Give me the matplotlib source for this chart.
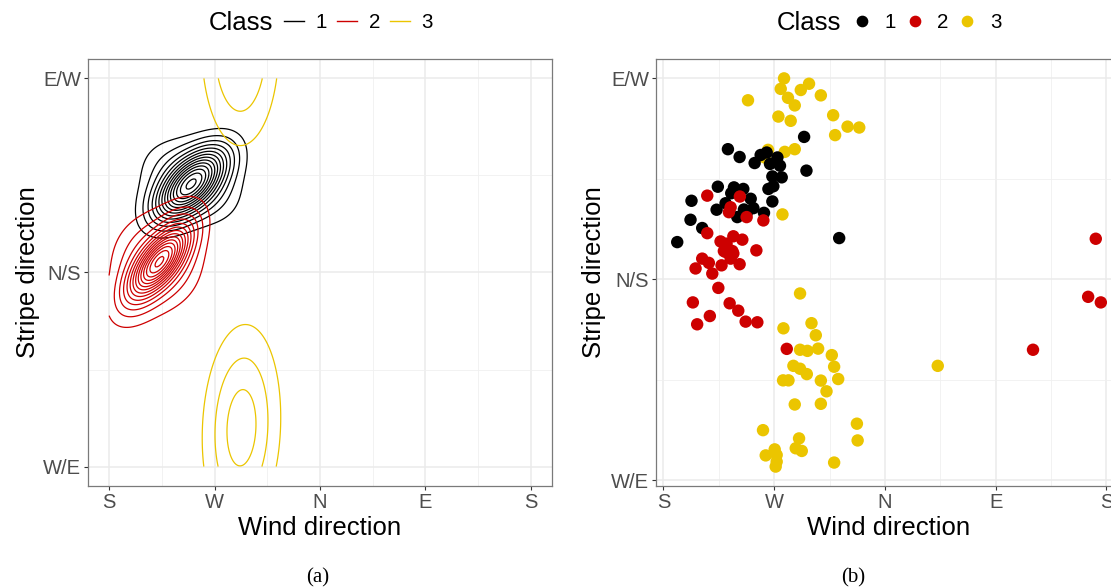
import numpy as np
import matplotlib
matplotlib.use("Agg")
import matplotlib.pyplot as plt
from matplotlib.lines import Line2D

plt.rcParams['font.family'] = ['Liberation Sans', 'DejaVu Sans']

# class colours
class_names = ['1', '2', '3']
class_colors = ['#000000', '#CD0000', '#EBC500']

# axis ticks (degrees)
wind_ticks = [180, 270, 360, 450, 540]
wind_labels = ['S', 'W', 'N', 'E', 'S']
stripe_ticks = [0, 90, 180]
stripe_labels = ['W/E', 'N/S', 'E/W']

# density components per class: peak height (in contour steps), centre,
# spread, correlation and kernel exponent (2 = gaussian, >2 = flatter top)
dens_class = [0, 0, 1, 1, 2, 2]
dens_height = [11.5, 2.8, 11.5, 2.8, 3.57, 3.44]
dens_mx = [250, 250, 223, 221, 293, 292]
dens_my = [131, 132, 95, 95, 18, 196]
dens_sx = [19, 33, 16.7, 31, 21, 21]
dens_sy = [10.5, 16, 10.7, 21, 30, 30]
dens_rho = [0.6, 0.1, 0.68, 0.35, 0.1, 0.0]
dens_pow = [2, 3, 2, 3, 2, 2]

# observations: wind direction / stripe direction (degrees)
wind_1 = [294.3, 232.4, 241.9, 259.0, 263.9, 254.1, 272.6, 266.6, 274.7, 296.2,
          268.5, 276.1, 269.3, 265.3, 224.2, 237.3, 244.9, 235.1, 202.8, 250.9,
          268.5, 230.5, 223.2, 253.1, 245.4, 261.7, 240.0, 247.6, 202.0, 211.5,
          191.2, 322.8]
stripe_1 = [153.7, 148.2, 144.7, 145.6, 146.7, 142.0, 144.5, 141.6, 140.8, 138.6,
            136.0, 135.6, 131.6, 130.4, 131.4, 131.1, 130.4, 128.5, 125.1, 126.0,
            124.8, 124.0, 121.1, 121.8, 121.2, 119.7, 117.8, 119.5, 116.6, 112.9,
            106.6, 108.4]

wind_2 = [215.6, 242.1, 234.6, 233.2, 247.6, 261.2, 215.6, 226.4, 236.8, 244.1,
          231.3, 236.0, 229.1, 255.5, 211.5, 230.5, 236.8, 234.6, 216.9, 206.1,
          227.2, 241.9, 219.7, 224.6, 203.9, 233.8, 217.7, 240.8, 207.4, 246.8,
          256.3, 280.2, 531.3, 525.1, 535.4, 480.3]
stripe_2 = [127.4, 127.0, 122.2, 120.0, 117.8, 116.3, 110.6, 106.9, 109.2, 107.7,
            105.9, 102.6, 102.6, 102.9, 99.2, 102.2, 101.5, 99.2, 97.3, 94.8,
            96.2, 96.7, 92.5, 86.1, 79.6, 79.2, 73.5, 75.9, 69.8, 71.0,
            70.7, 58.8, 108.1, 82.1, 79.6, 58.4]

wind_3 = [278.0, 298.3, 275.3, 291.6, 281.2, 307.9, 248.7, 286.7, 273.4, 283.4,
          317.9, 329.6, 339.1, 319.5, 286.7, 278.6, 265.0, 262.3, 276.7,
          291.0, 300.3, 277.5, 303.8, 291.0, 297.0, 305.7, 316.8, 285.6, 291.0,
          318.7, 296.5, 277.2, 281.6, 307.9, 322.0, 312.5, 286.7, 307.9, 260.9,
          337.2, 337.8, 290.2, 287.5, 292.4, 270.4, 263.1, 272.0, 272.0, 271.2,
          318.7, 402.9]
stripe_3 = [179.9, 177.5, 175.2, 174.7, 171.2, 172.3, 170.1, 167.8, 162.8, 160.9,
            163.4, 158.3, 157.9, 154.5, 148.2, 147.0, 147.9, 144.5, 119.0,
            83.6, 70.3, 68.0, 64.9, 58.4, 57.9, 58.9, 56.0, 51.2, 49.9,
            50.8, 47.5, 44.7, 44.7, 44.6, 45.3, 39.8, 33.9, 34.2, 22.4,
            25.3, 17.8, 18.7, 14.3, 13.1, 13.8, 11.1, 11.3, 8.3, 6.1,
            7.9, 51.2]

wind_obs = [wind_1, wind_2, wind_3]
stripe_obs = [stripe_1, stripe_2, stripe_3]

TICK_FS = 14.5
TITLE_FS = 18.5
LEG_FS = 14.8


def class_density(k, X, Y):
    Z = np.zeros_like(X)
    for c, h, mx, my, sx, sy, r, p in zip(dens_class, dens_height, dens_mx, dens_my,
                                          dens_sx, dens_sy, dens_rho, dens_pow):
        if c != k:
            continue
        dx = (X - mx) / sx
        dy = (Y - my) / sy
        # decorrelate, then apply the kernel exponent per axis
        a = dx
        b = (dy - r * dx) / np.sqrt(1 - r * r)
        q = np.abs(a) ** p + np.abs(b) ** p
        Z += h * np.exp(-0.5 * q)
    return Z


def style_axes(ax, ylabelpad):
    ax.set_facecolor('white')
    ax.set_xticks(wind_ticks)
    ax.set_xticklabels(wind_labels)
    ax.set_yticks(stripe_ticks)
    ax.set_yticklabels(stripe_labels)
    ax.set_xticks([225, 315, 405, 495], minor=True)
    ax.set_yticks([45, 135], minor=True)
    ax.grid(which='major', color='#EBEBEB', linewidth=1.1)
    ax.grid(which='minor', color='#F0F0F0', linewidth=0.6)
    ax.set_axisbelow(True)
    ax.tick_params(which='major', length=3, width=0.8, color='#333333',
                   labelsize=TICK_FS, labelcolor='#4D4D4D', pad=2)
    ax.tick_params(which='minor', length=0)
    for s in ax.spines.values():
        s.set_color('#7A7A7A')
        s.set_linewidth(0.9)
    ax.set_xlabel('Wind direction', fontsize=TITLE_FS, labelpad=3)
    ax.set_ylabel('Stripe direction', fontsize=TITLE_FS, labelpad=ylabelpad)


fig = plt.figure(figsize=(11.11, 5.88), dpi=100)
ax1 = fig.add_axes([0.0792, 0.1735, 0.4176, 0.7262])
ax2 = fig.add_axes([0.5905, 0.1735, 0.4194, 0.7262])

# (a) density contours
gx = np.linspace(180, 540, 300)
gy = np.linspace(0, 180, 300)
X, Y = np.meshgrid(gx, gy)
levels = np.arange(1, 20)
for k in range(3):
    Z = class_density(k, X, Y)
    lv = levels[levels < Z.max()]
    ax1.contour(X, Y, Z, levels=lv, colors=class_colors[k], linewidths=0.9)
ax1.set_xlim(162, 558)
ax1.set_ylim(-9, 189)
style_axes(ax1, 2)

# (b) observations
for k in [2, 0, 1]:
    ax2.scatter(wind_obs[k], stripe_obs[k], s=80, color=class_colors[k],
                edgecolors='none', zorder=3)
ax2.margins(0.05)
style_axes(ax2, 4)

# legends across the top
yl = 1 - 23 / 588
fig.text(209 / 1111, yl, 'Class', fontsize=TITLE_FS, ha='left', va='center')
line_handles = [Line2D([], [], color=c, linewidth=1.0) for c in class_colors]
fig.legend(line_handles, class_names, loc='center left',
           bbox_to_anchor=(284 / 1111, yl), ncol=3, frameon=False,
           fontsize=LEG_FS, handlelength=0.97, handletextpad=0.58,
           columnspacing=0.47, borderpad=0, borderaxespad=0)

fig.text(777 / 1111, yl, 'Class', fontsize=TITLE_FS, ha='left', va='center')
dot_handles = [Line2D([], [], color=c, marker='o', linestyle='none', markersize=7.4)
               for c in class_colors]
fig.legend(dot_handles, class_names, loc='center left',
           bbox_to_anchor=(853 / 1111, yl), ncol=3, frameon=False,
           fontsize=LEG_FS, handlelength=0.92, handletextpad=0.63,
           columnspacing=0.45, borderpad=0, borderaxespad=0)

# sub-figure captions
fig.text(318 / 1111, 1 - 578 / 588, '(a)', fontsize=15, ha='center', va='center',
         family=['Liberation Serif', 'DejaVu Serif'])
fig.text(853 / 1111, 1 - 578 / 588, '(b)', fontsize=15, ha='center', va='center',
         family=['Liberation Serif', 'DejaVu Serif'])

fig.savefig('out.png', dpi=100)
